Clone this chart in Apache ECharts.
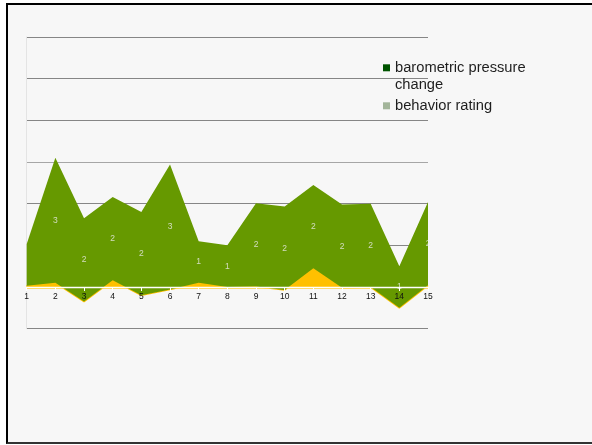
<!DOCTYPE html>
<html>
<head>
<meta charset="utf-8">
<script src="https://cdn.jsdelivr.net/npm/echarts@6/dist/echarts.min.js"></script>
<style>
  html, body { margin: 0; padding: 0; background: #ffffff; width: 592px; height: 445px; overflow: hidden; }
  #frame { position: absolute; left: 6px; top: 3px; width: 620px; height: 437px;
           border-top: 2px solid #000; border-left: 2px solid #000; border-bottom: 2px solid #333;
           background: #f7f7f7; }
  #chart { position: absolute; left: 0; top: 0; width: 592px; height: 445px; }
</style>
</head>
<body>
<div id="frame"></div>
<div id="chart"></div>
<script>
// categories (x axis)
const categories = ['1','2','3','4','5','6','7','8','9','10','11','12','13','14','15'];
// barometric pressure change (yellow area, bottom of stack)
const pressureChange = [0.03, 0.10, -0.35, 0.16, -0.20, -0.06, 0.10, 0.00, 0.01, -0.07, 0.45, -0.02, 0.00, -0.50, 0.04];
// behavior rating (green area, stacked on top)
const behaviorRating = [1, 3, 2, 2, 2, 3, 1, 1, 2, 2, 2, 2, 2, 1, 2];
// y axis range (no tick labels shown)
const yMin = -1, yMax = 6, yStep = 1;

const seriesNames = ['barometric pressure change', 'behavior rating'];

// label anchor: middle of each green band
const labelPos = behaviorRating.map((v, i) => pressureChange[i] + v / 2);

const chart = echarts.init(document.getElementById('chart'), null, { renderer: 'canvas' });
const font = 'Liberation Sans, Arial, sans-serif';

const gridTop = 37, gridBottom = 116.3;
const plotH = 445 - gridTop - gridBottom;
const zeroOffset = -plotH * (0 - yMin) / (yMax - yMin); // move x axis up to the zero line

chart.setOption({
  backgroundColor: 'transparent',
  animation: false,
  textStyle: { fontFamily: font },
  grid: { left: 26.7, right: 164, top: gridTop, bottom: gridBottom, containLabel: false },
  legend: {
    orient: 'vertical',
    left: 383,
    top: 42.3,
    padding: 0,
    itemWidth: 7,
    itemHeight: 7,
    itemGap: 4,
    icon: 'rect',
    selectedMode: false,
    textStyle: { fontFamily: font, fontSize: 14.7, color: '#1e1e1e', lineHeight: 17 },
    formatter: function (name) {
      // keep the square beside the first line of the wrapped label
      return name === seriesNames[0] ? '\nbarometric pressure\nchange' : name;
    },
    data: [
      { name: seriesNames[0], itemStyle: { color: '#005400' } },
      { name: seriesNames[1], itemStyle: { color: '#a3b59a' } }
    ]
  },
  xAxis: {
    type: 'category',
    data: categories,
    boundaryGap: false,
    z: 5,
    offset: zeroOffset,
    axisLine: { onZero: false, lineStyle: { color: '#ffffff', width: 1.3 } },
    axisTick: { show: true, length: 4, lineStyle: { color: '#ffffff', width: 1 } },
    axisLabel: { color: '#111', fontSize: 8.5, margin: 5, fontFamily: font },
    splitLine: { show: false }
  },
  yAxis: {
    type: 'value',
    min: yMin,
    max: yMax,
    interval: yStep,
    axisLine: { show: true, lineStyle: { color: '#e4e4e4', width: 1 } },
    axisTick: { show: false },
    axisLabel: { show: false },
    splitLine: { show: true, lineStyle: { color: ['#868686','#868686','#868686','#868686','#a6a6a6','#868686','#868686','#868686'], width: 1 } }
  },
  series: [
    {
      name: seriesNames[0],
      type: 'line',
      stack: 'total',
      stackStrategy: 'all',
      data: pressureChange,
      symbol: 'none',
      lineStyle: { color: '#ffc000', width: 1.5 },
      itemStyle: { color: '#ffc000' },
      areaStyle: { color: '#ffc000', opacity: 1 },
      markLine: {
        silent: true,
        z: 2,
        symbol: 'none',
        label: { show: false },
        lineStyle: { color: '#ffc000', width: 3.6, type: 'solid' },
        data: [{ yAxis: 0 }]
      },
      z: 2
    },
    {
      name: seriesNames[1],
      type: 'line',
      stack: 'total',
      stackStrategy: 'all',
      data: behaviorRating,
      symbol: 'none',
      lineStyle: { width: 0, color: '#669900' },
      itemStyle: { color: '#669900' },
      areaStyle: { color: '#669900', opacity: 1 },
      z: 3
    },
    {
      name: 'labels',
      type: 'scatter',
      data: labelPos,
      symbolSize: 0,
      silent: true,
      z: 4,
      label: {
        show: true,
        position: 'inside',
        color: '#ececec',
        fontSize: 8.5,
        fontFamily: font,
        formatter: function (p) {
          // the first label sits on the clipped left edge in the reference
          return p.dataIndex === 0 ? '' : String(Math.round(behaviorRating[p.dataIndex]));
        }
      }
    }
  ]
});
</script>
</body>
</html>
